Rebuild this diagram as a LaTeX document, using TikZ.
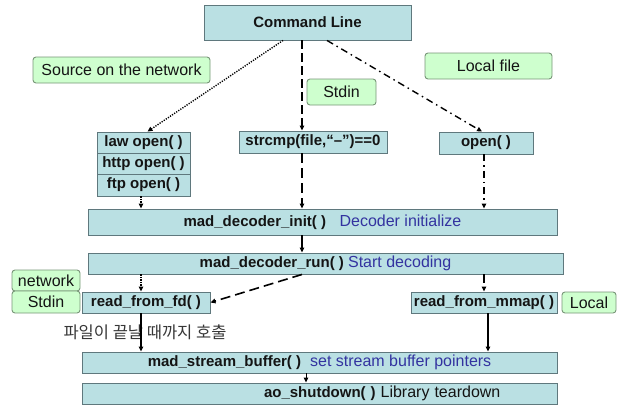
\documentclass[tikz,border=0pt]{standalone}
\usepackage{fontspec}
\setmainfont{Liberation Sans}
\newfontfamily\krfont{Noto Sans CJK KR}
\usetikzlibrary{arrows.meta}

\definecolor{boxfill}{RGB}{186,224,227}
\definecolor{boxline}{RGB}{95,120,125}
\definecolor{notefill}{RGB}{206,255,206}
\definecolor{noteline}{RGB}{120,150,120}
\definecolor{bluetext}{RGB}{51,51,160}
\definecolor{inktext}{RGB}{20,20,20}

\tikzset{
  fbox/.style={draw=boxline, fill=boxfill, line width=0.9pt, inner sep=0pt,
    text=inktext, font=\bfseries\fontsize{15}{18}\selectfont},
  note/.style={draw=noteline, fill=notefill, line width=0.9pt, rounded corners=3pt,
    inner sep=0pt, text=inktext, font=\fontsize{16}{19}\selectfont},
  tip/.style={-{Triangle[length=5pt,width=4.5pt]}},
  dotline/.style={tip, line width=1.4pt, dash pattern=on 1.2pt off 1.3pt},
  dashline/.style={tip, line width=1.6pt, dash pattern=on 9pt off 4pt},
  longdash/.style={tip, line width=1.6pt, dash pattern=on 10pt off 5pt},
  dashdot/.style={tip, line width=1.4pt, dash pattern=on 7pt off 4pt on 1.5pt off 4pt},
  solidline/.style={tip, line width=1.4pt}
}

\begin{document}
\begin{tikzpicture}[x=1pt, y=-1pt]
\useasboundingbox (0,0) rectangle (632,408);

% top level
\node[fbox, minimum width=207pt, minimum height=35pt] (cmd) at (307.5,22.5) {Command Line};

% source labels
\node[note, minimum width=177pt, minimum height=26pt] (srcnet) at (121.5,70) {Source on the network};
\node[note, minimum width=127pt, minimum height=26pt] (localfile) at (488.5,66) {Local file};
\node[note, minimum width=69pt, minimum height=26pt] (stdinA) at (341.5,92) {Stdin};

% open functions
\node[fbox, minimum width=93pt, minimum height=21pt] (law) at (143.5,142.5) {law open( )};
\node[fbox, minimum width=93pt, minimum height=21pt] (http) at (143.5,163.5) {http open( )};
\node[fbox, minimum width=93pt, minimum height=22pt] (ftp) at (143.5,185) {ftp open( )};
\node[fbox, minimum width=148pt, minimum height=22pt] (strcmp) at (313,142) {strcmp(file,“–”)==0};
\node[fbox, minimum width=94pt, minimum height=22pt] (open) at (486,143) {open( )};

% decoder
\node[fbox, minimum width=469pt, minimum height=26pt] (init) at (322.5,222)
  {mad\_decoder\_init( )\hspace{0.9em}\textcolor{bluetext}{\mdseries\fontsize{16}{19}\selectfont Decoder initialize}};
\node[fbox, minimum width=475pt, minimum height=21pt] (run) at (325.5,263.5)
  {mad\_decoder\_run( ) \textcolor{bluetext}{\mdseries\fontsize{16}{19}\selectfont Start decoding}};

% readers
\node[note, minimum width=68pt, minimum height=21pt] (network) at (46,280.5) {network};
\node[note, minimum width=68pt, minimum height=22pt] (stdinB) at (46,302) {Stdin};
\node[fbox, minimum width=128pt, minimum height=21pt] (fd) at (146,302.5) {read\_from\_fd( )};
\node[fbox, minimum width=146pt, minimum height=21pt] (mmap) at (484,302.5) {read\_from\_mmap( )};
\node[note, minimum width=54pt, minimum height=21pt] (local) at (589,302.5) {Local};

\node[text=inktext!85, font=\krfont\fontsize{16.5}{19}\selectfont, inner sep=0pt] (loopnote) at (145,332) {파일이 끝날 때까지 호출};

% buffers and shutdown
\node[fbox, minimum width=475pt, minimum height=21pt] (stream) at (319.5,362.5)
  {mad\_stream\_buffer( )\hspace{0.6em}\textcolor{bluetext}{\mdseries\fontsize{16}{19}\selectfont set stream buffer pointers}};
\node[fbox, minimum width=475pt, minimum height=21pt, text width=475pt, align=left] (ao) at (319.5,393.5)
  {\hspace*{182pt}ao\_shutdown( ) \mdseries\fontsize{16}{19}\selectfont Library teardown};

% connectors from the command line
\draw[dotline] ([xshift=-24.5pt]cmd.south) -- ([xshift=4pt]law.north);
\coordinate (cA) at ([xshift=-5.5pt]cmd.south);
\draw[dashline] (cA) -- (cA |- strcmp.north);
\draw[dashdot] ([xshift=19.5pt]cmd.south) -- ([xshift=-4pt]open.north);

% into the decoder
\coordinate (fA) at ([xshift=-2.5pt]ftp.south);
\draw[dotline] (fA) -- (fA |- init.north);
\coordinate (sA) at ([xshift=-11pt]strcmp.south);
\draw[longdash] (sA) -- (sA |- init.north);
\coordinate (oA) at ([xshift=-2pt]open.south);
\draw[dashdot] (oA) -- (oA |- init.north);
\coordinate (iA) at ([xshift=-20.5pt]init.south);
\draw[solidline] (iA) -- (iA |- run.north);

% to the readers
\coordinate (dA) at ([xshift=-5pt]fd.north);
\draw[dotline] (dA |- run.south) -- (dA);
\draw[longdash] ([xshift=-23.5pt]run.south) -- (fd.east);
\draw[dashline] (run.south -| mmap.north) -- (mmap.north);

% to the stream buffer
\coordinate (dB) at ([xshift=-5pt]fd.south);
\draw[solidline] (dB) -- (dB |- stream.north);
\coordinate (mB) at ([xshift=4pt]mmap.south);
\draw[solidline] (mB) -- (mB |- stream.north);
\coordinate (bA) at ([xshift=-13.5pt]stream.south);
\draw[solidline, line width=1pt] (bA) -- (bA |- ao.north);
\end{tikzpicture}
\end{document}
